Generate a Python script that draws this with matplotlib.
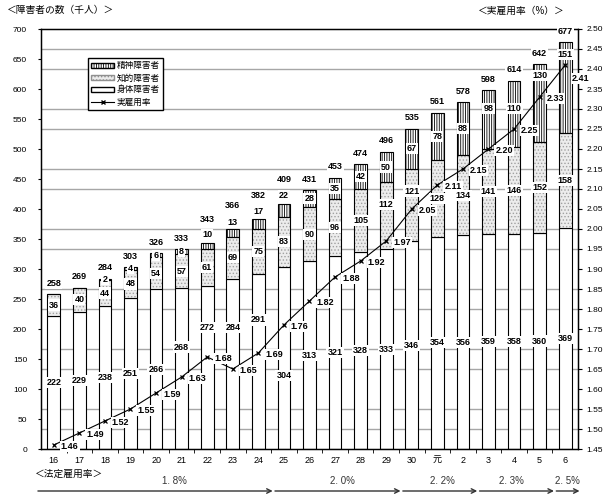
import numpy as np
import matplotlib.pyplot as plt
from matplotlib.patches import Patch
from matplotlib.lines import Line2D
from matplotlib.transforms import blended_transform_factory

plt.rcParams['font.family'] = ['Liberation Sans', 'Noto Sans CJK JP']
plt.rcParams['hatch.linewidth'] = 0.6

# data (千人 / %)
years = ['16', '17', '18', '19', '20', '21', '22', '23', '24', '25', '26',
         '27', '28', '29', '30', '元', '2', '3', '4', '5', '6']
body = [222, 229, 238, 251, 266, 268, 272, 284, 291, 304, 313,
        321, 328, 333, 346, 354, 356, 359, 358, 360, 369]
intel = [36, 40, 44, 48, 54, 57, 61, 69, 75, 83, 90,
         96, 105, 112, 121, 128, 134, 141, 146, 152, 158]
mental = [0, 0, 2, 4, 6, 8, 10, 13, 17, 22, 28,
          35, 42, 50, 67, 78, 88, 98, 110, 130, 151]
totals = [258, 269, 284, 303, 326, 333, 343, 366, 382, 409, 431,
          453, 474, 496, 535, 561, 578, 598, 614, 642, 677]
rate = [1.46, 1.49, 1.52, 1.55, 1.59, 1.63, 1.68, 1.65, 1.69, 1.76, 1.82,
        1.88, 1.92, 1.97, 2.05, 2.11, 2.15, 2.20, 2.25, 2.33, 2.41]
law_rates = ['1. 8%', '2. 0%', '2. 2%', '2. 3%', '2. 5%']
law_start = [0, 9, 14, 17, 20]

# label placement tweaks (left-axis units)
body_lbl = {5: 170, 6: 203, 7: 202, 8: 215, 9: 123}
intel_lbl = {13: 407, 14: 430}
mental_lbl = {6: 357, 7: 377, 8: 395, 9: 423, 17: 567, 18: 567, 19: 622, 20: 658}
law_text_x = [4.7, 11.3, 15.2, 17.9, 20.1]

W, H = 605, 498
fig = plt.figure(figsize=(W / 100, H / 100), dpi=100)
ax = fig.add_axes([41 / W, 1 - 449 / H, 537 / W, 420 / H])

x = np.arange(len(years))
body = np.array(body)
intel = np.array(intel)
mental = np.array(mental)
w = 0.5

ax.bar(x, body, w, color='white', edgecolor='black', lw=0.8, zorder=2)
ax.bar(x, intel, w, bottom=body, color='#ececec', edgecolor='#a0a0a0',
       hatch='.....', lw=0, zorder=2)
ax.bar(x, intel, w, bottom=body, fill=False, edgecolor='black', lw=0.8, zorder=2.1)
ax.bar(x, mental, w, bottom=body + intel, color='white', edgecolor='black',
       hatch='|||||||', lw=0.8, zorder=2)

ax.set_xlim(-0.5, 20.5)
ax.set_ylim(0, 700)
ax.set_yticks(range(0, 701, 50))
ax.set_yticks(np.linspace(0, 700, 22), minor=True)
ax.grid(which='minor', axis='y', color='#a6a6a6', lw=1.0, zorder=0)
ax.set_xticks(x, years)
ax.set_xticks(x[:-1] + 0.5, minor=True)
ax.tick_params(axis='x', which='major', length=0, labelsize=6.5, pad=5)
ax.tick_params(axis='x', which='minor', length=3, direction='out')
ax.tick_params(axis='y', which='major', length=2, labelsize=6, pad=8)
ax.tick_params(axis='y', which='minor', length=0)
for s in ax.spines.values():
    s.set_linewidth(1.0)

ax2 = ax.twinx()
ax2.set_ylim(1.45, 2.50)
ax2.set_yticks(np.arange(1.45, 2.501, 0.05))
ax2.yaxis.set_major_formatter('{x:.2f}')
ax2.tick_params(axis='y', length=3, labelsize=6, pad=3)
ax2.plot(x, rate, color='black', lw=0.8, marker='x', ms=3.5, mew=0.9, zorder=3)

box = dict(facecolor='white', edgecolor='none', pad=0.8)
lbl = dict(ha='center', va='center', fontsize=6.5, fontweight='bold',
           transform=ax.transData, bbox=box, zorder=5)

for i in range(len(years)):
    ax2.text(i, body_lbl.get(i, body[i] / 2), str(body[i]), **lbl)
    ax2.text(i, intel_lbl.get(i, body[i] + intel[i] / 2), str(intel[i]), **lbl)
    if mental[i] > 0:
        ym = mental_lbl.get(i, body[i] + intel[i] + mental[i] / 2)
        ax2.text(i, ym, str(mental[i]), **lbl)
    off = 40 if 6 <= i <= 9 else 18
    ax2.text(i, totals[i] + off, str(totals[i]), **lbl)

for i, r in enumerate(rate):
    dy = -10 if i == len(rate) - 1 else -1
    ax2.annotate(f'{r:.2f}', (i, r), xytext=(5, dy), textcoords='offset points',
                 ha='left', va='center', fontsize=6.5, fontweight='bold',
                 bbox=box, zorder=6)

fig.text(7 / W, 1 - 10 / H, '＜障害者の数（千人）＞', fontsize=7, va='center')
fig.text(478 / W, 1 - 11 / H, '＜実雇用率（%）＞', fontsize=7, va='center')
fig.text(35 / W, 1 - 474 / H, '＜法定雇用率＞', fontsize=7, va='center')

tr = blended_transform_factory(ax.transData, fig.transFigure)
ends = law_start[1:] + [len(years)]
for k, lab in enumerate(law_rates):
    x0 = law_start[k] - 0.5 + (0.15 if k > 0 else -0.12)
    x1 = ends[k] - 0.5 + 0.06
    ax.annotate('', xy=(x1, 7), xytext=(x0, 7),
                xycoords=('data', 'figure pixels'),
                textcoords=('data', 'figure pixels'),
                arrowprops=dict(arrowstyle='->', color='#333333', lw=1.0,
                                shrinkA=0, shrinkB=0, mutation_scale=8),
                annotation_clip=False)
    ax.text(law_text_x[k], 1 - 481 / H, lab, transform=tr, ha='center',
            va='center', fontsize=7, color='#333333')

handles = [
    Patch(facecolor='white', edgecolor='black', hatch='|||||||', label='精神障害者'),
    Patch(facecolor='#ececec', edgecolor='#909090', hatch='.....', label='知的障害者'),
    Patch(facecolor='white', edgecolor='black', label='身体障害者'),
    Line2D([], [], color='black', marker='x', ms=3.5, lw=0.8, label='実雇用率'),
]
fig.legend(handles=handles, loc='upper left', bbox_to_anchor=(88 / W, 1 - 58 / H),
           fontsize=6.2, frameon=True, fancybox=False, edgecolor='black',
           framealpha=1, handlelength=2.6, handleheight=0.5, labelspacing=0.35,
           borderpad=0.4, handletextpad=0.3, borderaxespad=0)

fig.savefig('out.png', dpi=100)
